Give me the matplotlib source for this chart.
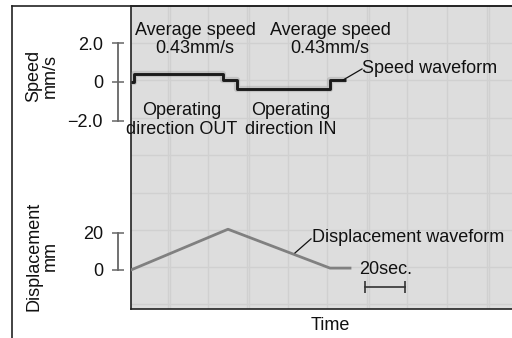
import matplotlib
matplotlib.use("Agg")
import matplotlib.pyplot as plt
from matplotlib.lines import Line2D

plt.rcParams['font.family'] = ['Liberation Sans', 'DejaVu Sans']

# ---- data (time in seconds) ----
speed_t = [0, 1.5, 1.5, 46, 46, 53, 53, 99.5, 99.5, 107.5]
speed_v = [0, 0, 0.43, 0.43, 0.1, 0.1, -0.36, -0.36, 0.1, 0.1]
disp_t = [0, 48.5, 99.5, 109.5]
disp_v = [0, 22, 1, 1]
speed_ticks = [2.0, 0, -2.0]
speed_ticklabels = ["2.0", "0", "\u22122.0"]
disp_ticks = [20, 0]
disp_ticklabels = ["20", "0"]
scale_bar_t = [117, 137]

W, H = 512, 338
fig = plt.figure(figsize=(W / 100, H / 100), dpi=100)

def rect(x0, y0, x1, y1):
    return [x0 / W, 1 - y1 / H, (x1 - x0) / W, (y1 - y0) / H]

FS = 13.0
TXT = '#111111'
AX_C = '#666666'

# background panel
bg = fig.add_axes(rect(131, 6, 512, 309))
bg.set_facecolor('#dddddd')
bg.set_xlim(0, 190.5)
bg.set_ylim(309, 6)
for s in ['top', 'left', 'bottom']:
    bg.spines[s].set_color('#222222')
    bg.spines[s].set_linewidth(1.2)
bg.spines['right'].set_visible(False)
bg.set_xticks([18.5, 19.5, 38.5, 58, 59, 78.5, 98, 118, 119, 138, 158, 178, 179])
bg.set_yticks([43, 80, 118, 155, 193, 230, 267, 304])
bg.tick_params(length=0, labelleft=False, labelbottom=False)
bg.grid(True, color='#d0d0d0', lw=1.0)

# outer frame lines
fig.add_artist(Line2D([12 / W, 12 / W], [0, 1 - 6 / H], color='#222222', lw=1.2))
fig.add_artist(Line2D([12 / W, 1], [1 - 6 / H, 1 - 6 / H], color='#222222', lw=1.2))

OUT = 9.4   # points (13 px)
TL = 8      # tick length, points
PAD = 6.8

# speed axes
ax1 = fig.add_axes(rect(131, 6, 512, 158))
ax1.patch.set_alpha(0)
ax1.set_xlim(0, 190.5)
ax1.set_ylim(-3.9, 3.9)
for s in ['top', 'right', 'bottom']:
    ax1.spines[s].set_visible(False)
ax1.spines['left'].set_position(('outward', OUT))
ax1.spines['left'].set_bounds(-2, 2)
ax1.spines['left'].set_color(AX_C)
ax1.spines['left'].set_linewidth(1.3)
ax1.set_xticks([])
ax1.set_yticks(speed_ticks)
ax1.set_yticklabels(speed_ticklabels, fontsize=FS, color=TXT)
ax1.tick_params(axis='y', direction='inout', length=TL, width=1.1, color=AX_C, pad=PAD)
ax1.plot(speed_t, speed_v, color='#888888', lw=4.5, alpha=0.3, solid_capstyle='butt')
ax1.plot(speed_t, speed_v, color='#1a1a1a', lw=2.1, solid_capstyle='butt')

# displacement axes
ax2 = fig.add_axes(rect(131, 158, 512, 309))
ax2.patch.set_alpha(0)
ax2.set_xlim(0, 190.5)
ax2.set_ylim(-21.1, 60.5)
for s in ['top', 'right', 'bottom']:
    ax2.spines[s].set_visible(False)
ax2.spines['left'].set_position(('outward', OUT))
ax2.spines['left'].set_bounds(0, 20)
ax2.spines['left'].set_color(AX_C)
ax2.spines['left'].set_linewidth(1.3)
ax2.set_xticks([])
ax2.set_yticks(disp_ticks)
ax2.set_yticklabels(disp_ticklabels, fontsize=FS, color=TXT)
ax2.tick_params(axis='y', direction='inout', length=TL, width=1.1, color=AX_C, pad=PAD)
ax2.plot(disp_t, disp_v, color='#808080', lw=2.0)

# axis labels
fig.text(42 / W, 1 - 76 / H, "Speed\nmm/s", rotation=90, ha='center', va='center',
         multialignment='center', fontsize=FS, color=TXT, linespacing=1.0)
fig.text(42 / W, 1 - 256 / H, "Displacement\nmm", rotation=90, ha='center', va='center',
         multialignment='center', fontsize=FS, color=TXT, linespacing=1.0)
fig.text(330 / W, 1 - 325 / H, "Time", ha='center', va='center', fontsize=FS, color=TXT)

# annotations
kw = dict(fontsize=FS, color=TXT, linespacing=1.1, ha='center', va='center')
ax1.text(32, 2.18, "Average speed\n0.43mm/s", **kw)
ax1.text(99.5, 2.18, "Average speed\n0.43mm/s", **kw)
ax1.text(25.5, -1.95, "Operating\ndirection OUT", **kw)
ax1.text(80, -1.95, "Operating\ndirection IN", **kw)
ax1.plot([106, 115.5], [0.1, 0.67], color=TXT, lw=0.9)
ax1.text(115.5, 0.67, "Speed waveform", fontsize=FS, color=TXT, ha='left', va='center')

ax2.plot([82, 90], [9.2, 16.8], color=TXT, lw=0.9)
ax2.text(90.5, 17.3, "Displacement waveform", fontsize=FS, color=TXT, ha='left', va='center')
ax2.text(127.5, 0.5, "20sec.", fontsize=FS, color=TXT, ha='center', va='center')
ax2.plot(scale_bar_t, [-9.2, -9.2], color='#333333', lw=1.2, marker='|', ms=9, mew=1.2)

fig.savefig("out.png", dpi=100)
